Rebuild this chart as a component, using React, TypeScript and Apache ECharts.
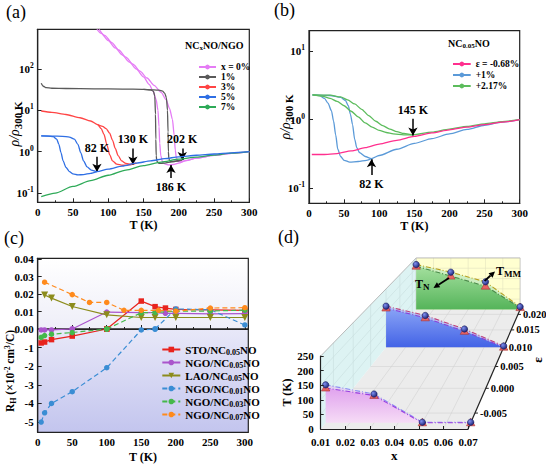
import React, { useEffect, useRef } from 'react';
import * as echarts from 'echarts';

const SERIF = "'Liberation Serif', 'Times New Roman', serif";

// ---------------- Panel (a): rho/rho300K vs T, NCxNO/NGO ----------------
const A_NAMES = ['x = 0%', '1%', '3%', '5%', '7%'];
const A_COLORS = ['#e57cf5', '#5a5a5a', '#ff4545', '#2f6fe4', '#2eaa58'];
const A_X0_COOL = [[84, 900], [90, 720], [100, 480], [110, 320], [120, 215], [130, 145], [140, 98], [150, 64], [158, 42], [164, 28], [168, 18], [170.5, 10], [172, 4], [173, 1.6], [174.5, 0.8], [177, 0.56], [181, 0.5], [186, 0.48], [192, 0.49], [200, 0.53], [210, 0.61], [225, 0.7], [250, 0.81], [275, 0.91], [300, 1]];
const A_X0_WARM = [[87, 900], [95, 640], [105, 430], [115, 285], [125, 192], [135, 130], [145, 88], [155, 60], [165, 40], [175, 27], [182, 18], [187, 11], [191, 6], [193.5, 2.5], [195, 1.1], [196.5, 0.72], [199, 0.58], [203, 0.57], [210, 0.61], [225, 0.7], [250, 0.81], [275, 0.91], [300, 1]];
const A_X1_A = [[5, 45], [8, 38], [12, 35], [20, 34], [40, 33.5], [80, 33], [120, 32.5], [150, 32], [160, 31], [164, 29], [166, 22], [167, 8], [167.5, 2], [168, 0.8], [169, 0.58], [172, 0.52], [180, 0.53], [190, 0.57], [200, 0.62]];
const A_X1_B = [[150, 32], [165, 31], [172, 30.5], [177, 29], [180, 26], [182.5, 20], [184, 10], [184.8, 3], [185.3, 1], [186, 0.66], [188, 0.58], [195, 0.59], [205, 0.63]];
const A_X3_A = [[5, 9.6], [20, 8.9], [40, 7.9], [60, 6.6], [75, 5.5], [85, 4.5], [90, 3.6], [94, 2.6], [98, 1.5], [102, 0.85], [106, 0.6], [112, 0.5], [120, 0.47], [130, 0.48], [140, 0.53]];
const A_X3_B = [[85, 4.5], [92, 4.1], [97, 3.6], [102, 2.8], [106, 1.9], [110, 1.2], [114, 0.8], [119, 0.6], [125, 0.52], [132, 0.5], [140, 0.53]];
const A_X5_A = [[5, 2.4], [15, 2.38], [22, 2.3], [27, 2.0], [30, 1.5], [33, 0.95], [36, 0.6], [40, 0.42], [45, 0.33], [50, 0.29], [57, 0.275], [65, 0.28], [75, 0.3], [84, 0.33]];
const A_X5_B = [[5, 2.4], [20, 2.38], [35, 2.35], [45, 2.25], [52, 2.0], [57, 1.5], [61, 0.95], [65, 0.6], [70, 0.43], [76, 0.36], [84, 0.33], [100, 0.38], [120, 0.45], [140, 0.53], [160, 0.6], [180, 0.68], [200, 0.75], [225, 0.82], [250, 0.88], [275, 0.94], [300, 1]];
const A_X7 = [[5, 0.082], [25, 0.1], [50, 0.145], [75, 0.2], [100, 0.27], [125, 0.36], [150, 0.46], [175, 0.56], [200, 0.66], [225, 0.74], [250, 0.83], [275, 0.92], [300, 1]];
const A_ARROWS = [
  { label: '82 K', from: [84, 0.75], to: [84, 0.33] },
  { label: '130 K', from: [135, 1.2], to: [135, 0.49] },
  { label: '202 K', from: [205, 1.2], to: [205, 0.63] },
  { label: '186 K', from: [189, 0.23], to: [189, 0.48] },
];

// ---------------- Panel (b): NC0.05NO, strain ----------------
const B_NAMES = ['ε = -0.68%', '+1%', '+2.17%'];
const B_COLORS = ['#ff2f8e', '#5b9ad8', '#5cbc5c'];
const B_PINK = [[4, 0.31], [20, 0.31], [40, 0.32], [60, 0.35], [80, 0.39], [100, 0.44], [125, 0.5], [150, 0.57], [175, 0.64], [200, 0.71], [225, 0.78], [250, 0.85], [275, 0.92], [300, 1]];
const B_BLUE_A = [[5, 2.3], [15, 2.25], [22, 2.05], [27, 1.75], [32, 1.35], [35, 0.95], [38, 0.6], [41, 0.37], [45, 0.29], [50, 0.255], [58, 0.24], [70, 0.245], [82, 0.255], [89, 0.27]];
const B_BLUE_B = [[5, 2.3], [30, 2.26], [45, 2.12], [52, 1.9], [56, 1.6], [59, 1.2], [62, 0.85], [65, 0.52], [68, 0.39], [72, 0.33], [80, 0.29], [89, 0.27], [100, 0.3], [125, 0.37], [150, 0.45], [175, 0.53], [200, 0.62], [225, 0.72], [250, 0.83], [275, 0.92], [300, 1]];
const B_GREEN_A = [[5, 2.3], [20, 2.2], [30, 2.05], [40, 1.85], [50, 1.6], [60, 1.33], [70, 1.1], [80, 0.9], [90, 0.78], [100, 0.7], [110, 0.65], [120, 0.62], [135, 0.6], [148, 0.6]];
const B_GREEN_B = [[5, 2.3], [30, 2.28], [45, 2.15], [55, 1.95], [65, 1.7], [75, 1.42], [85, 1.15], [95, 0.95], [105, 0.82], [115, 0.73], [125, 0.67], [135, 0.63], [148, 0.6], [175, 0.66], [200, 0.73], [225, 0.8], [250, 0.87], [275, 0.94], [300, 1]];
const B_ARROWS = [
  { label: '145 K', from: [148, 1.03], to: [148, 0.59] },
  { label: '82 K', from: [89, 0.155], to: [89, 0.265] },
];

// ---------------- Panel (c): Hall coefficient (x10^-2 cm^3/C) ----------------
const C_NAMES = ['STO/NC0.05NO', 'NGO/NC0.05NO', 'LAO/NC0.05NO', 'NGO/NC0.01NO', 'NGO/NC0.03NO', 'NGO/NC0.07NO'];
const C_T_STO = [5, 10, 20, 50, 100, 150, 170, 185, 200, 250, 300];
const C_V_STO = [-0.75, -0.7, -0.57, -0.38, 0, 0.016, 0.0128, 0.012, 0.0112, 0.011, 0.0107];
const C_T_NGO05 = [5, 10, 20, 50, 100, 150, 170, 185, 200, 250, 300];
const C_V_NGO05 = [-0.05, -0.05, -0.05, 0, 0.0097, 0.0094, 0.0094, 0.009, 0.009, 0.0087, 0.0088];
const C_T_LAO = [10, 20, 50, 100, 150, 170, 200, 250, 300];
const C_V_LAO = [0.0195, 0.0177, 0.0129, 0.0081, 0.0066, 0.0066, 0.0066, 0.0066, 0.0066];
const C_T_NGO01 = [5, 10, 20, 50, 100, 150, 170, 200, 250, 300];
const C_V_NGO01 = [-5.0, -4.5, -4.0, -3.37, -2.08, -0.05, 0, 0.0115, 0.011, 0.0023];
const C_T_NGO03 = [5, 10, 20, 50, 100, 150, 170, 200, 250, 300];
const C_V_NGO03 = [-0.45, -0.35, -0.28, -0.19, 0, 0.0093, 0.0095, 0.0102, 0.0103, 0.0108];
const C_T_NGO07 = [10, 50, 75, 100, 125, 150, 175, 200, 250, 300];
const C_V_NGO07 = [0.0268, 0.0197, 0.0152, 0.0152, 0.0107, 0.0107, 0.0107, 0.0102, 0.012, 0.0122];

// ---------------- Panel (d): 3D phase diagram ----------------
const D_X = [0.01, 0.03, 0.05, 0.07];
const D_EPS = [-0.0068, 0.01, 0.0217];
const D_TMM = [[132, 100, 2, 2], [176, 136, 78, 5], [218, 181, 134, 13]];
const D_TN = [[121, 95, 0, 0], [168, 126, 68, 0], [210, 162, 113, 9]];
const D_X_TICKS = [0.02, 0.03, 0.04, 0.05, 0.06];
const D_T_TICKS = [50, 100, 150, 200];
const D_EPS_TICKS = [-0.005, 0, 0.005, 0.01, 0.015, 0.02];

// projection (camera) parameters
const D_VP = [645, 23];
const D_PERSP = 14.1;
const D_EPS_MIN = -0.0079;
const D_EPS_MAX = 0.0217;
const D_X_MIN = 0.01;
const D_X_MAX = 0.07;
const D_T_MAX = 250;

function proj(api: any, x: number, t: number, eps: number) {
  const p = api.coord([x, t]);
  const s = 1 / (1 + D_PERSP * (eps - D_EPS_MIN));
  return [D_VP[0] + (p[0] - D_VP[0]) * s, D_VP[1] + (p[1] - D_VP[1]) * s];
}

const boldText = { fontFamily: SERIF, fontWeight: 'bold', color: '#000' };

function logFormatter(v: number) {
  const e = Math.log10(v);
  if (Math.abs(e - Math.round(e)) > 1e-6) return '';
  return `{b|10}{s|${Math.round(e)}}`;
}
const logRich = {
  b: { ...boldText, fontSize: 11 },
  s: { ...boldText, fontSize: 7.5, padding: [0, 0, 7, 0] },
};

const axisLineStyle = { show: true, lineStyle: { color: '#222', width: 1.2 } };
const tickIn = { show: true, inside: true, length: 4, lineStyle: { color: '#222', width: 1 } };

function xAxisT(grid: number, max: number, showLabel: boolean, name: string) {
  return {
    type: 'value', gridIndex: grid, min: 0, max, interval: 50,
    axisLine: axisLineStyle, axisTick: tickIn,
    minorTick: { show: true, splitNumber: 2, length: 2, lineStyle: { color: '#222' } },
    axisLabel: { show: showLabel, ...boldText, fontSize: 11, margin: 4, formatter: (v: number) => (v > 300 ? '' : String(v)) },
    splitLine: { show: false },
    name, nameLocation: 'middle', nameGap: 17,
    nameTextStyle: { ...boldText, fontSize: 12 },
  };
}

function lineS(name: string, data: number[][], color: string, idx: number, z: number) {
  return {
    type: 'line', name, data, xAxisIndex: idx, yAxisIndex: idx,
    symbol: 'none', showSymbol: false, smooth: 0.25, smoothMonotone: 'x',
    lineStyle: { color, width: 1.3 }, itemStyle: { color }, z,
    clip: true,
  };
}

function arrowMarkLine(arrows: any[]) {
  return {
    silent: true, animation: false,
    symbol: ['none', 'arrow'], symbolSize: [7, 8],
    lineStyle: { color: '#000', width: 1.5, type: 'solid' },
    label: { show: true, position: 'start', formatter: '{b}', ...boldText, fontSize: 12, distance: 3 },
    data: arrows.map((a) => [{ name: a.label, coord: a.from }, { coord: a.to }]),
  };
}

function subName(name: string) {
  const m = name.match(/^(.*NC)([\d.]+)(NO)$/);
  return m ? `{n|${m[1]}}{s|${m[2]}}{n|${m[3]}}` : `{n|${name}}`;
}

function cSplit(T: number[], V: number[], upper: boolean) {
  return T.map((t, i) => [t, (upper ? V[i] >= 0 : V[i] <= 0) ? V[i] : '-']);
}

function arrowEls(x1: number, y1: number, x2: number, y2: number) {
  const ang = Math.atan2(y2 - y1, x2 - x1);
  const L = 6, W = 3;
  const bx = x2 - L * Math.cos(ang), by = y2 - L * Math.sin(ang);
  const nx = -Math.sin(ang), ny = Math.cos(ang);
  return [
    { type: 'line', z: 100, shape: { x1, y1, x2: bx, y2: by }, style: { stroke: '#000', lineWidth: 1.8 } },
    { type: 'polygon', z: 100, shape: { points: [[x2, y2], [bx + nx * W, by + ny * W], [bx - nx * W, by - ny * W]] }, style: { fill: '#000' } },
  ];
}

function buildOption() {
  // ----- (c) series -----
  const cStyles = [
    { T: C_T_STO, V: C_V_STO, color: '#e8231d', symbol: 'rect', dashed: false, rot: 0 },
    { T: C_T_NGO05, V: C_V_NGO05, color: '#aa55cc', symbol: 'circle', dashed: false, rot: 0 },
    { T: C_T_LAO, V: C_V_LAO, color: '#8c8c1c', symbol: 'triangle', dashed: false, rot: 180 },
    { T: C_T_NGO01, V: C_V_NGO01, color: '#3a8dd4', symbol: 'circle', dashed: true, rot: 0 },
    { T: C_T_NGO03, V: C_V_NGO03, color: '#45b84a', symbol: 'circle', dashed: true, rot: 0 },
    { T: C_T_NGO07, V: C_V_NGO07, color: '#ff8a1c', symbol: 'circle', dashed: true, rot: 0 },
  ];
  const cSeries: any[] = [];
  cStyles.forEach((s, k) => {
    [true, false].forEach((upper) => {
      cSeries.push({
        type: 'line', name: C_NAMES[k], data: cSplit(s.T, s.V, upper),
        xAxisIndex: upper ? 2 : 3, yAxisIndex: upper ? 2 : 3,
        symbol: s.symbol, symbolRotate: s.rot, symbolSize: s.symbol === 'triangle' ? 7 : 5.5, showSymbol: true,
        lineStyle: { color: s.color, width: 1.2, type: s.dashed ? [5, 3] : 'solid' },
        itemStyle: { color: s.color }, clip: false, z: 3 + k,
      });
    });
  });

  // ----- (d) custom series -----
  const boxRender = (params: any, api: any) => {
    const P = (x: number, t: number, e: number) => proj(api, x, t, e);
    const x0 = D_X_MIN, x1 = D_X_MAX, e0 = D_EPS_MIN, e1 = D_EPS_MAX, tm = D_T_MAX;
    const ch: any[] = [];
    const poly = (pts: number[][], fill: string) => ({ type: 'polygon', shape: { points: pts }, style: { fill } });
    const ln = (a: number[], b: number[], stroke: string, w: number) => ({ type: 'line', shape: { x1: a[0], y1: a[1], x2: b[0], y2: b[1] }, style: { stroke, lineWidth: w } });
    ch.push(poly([P(x0, 0, e0), P(x1, 0, e0), P(x1, 0, e1), P(x0, 0, e1)], '#ececec'));
    ch.push(poly([P(x0, 0, e0), P(x0, tm, e0), P(x0, tm, e1), P(x0, 0, e1)], '#ddf3f3'));
    ch.push(poly([P(x0, 0, e1), P(x1, 0, e1), P(x1, tm, e1), P(x0, tm, e1)], '#ffffd0'));
    const gc = '#d2d2d2';
    D_X_TICKS.forEach((x) => {
      ch.push(ln(P(x, 0, e0), P(x, 0, e1), gc, 0.6));
      ch.push(ln(P(x, 0, e1), P(x, tm, e1), '#e2e2c0', 0.6));
    });
    D_EPS_TICKS.forEach((e) => {
      ch.push(ln(P(x0, 0, e), P(x1, 0, e), gc, 0.6));
      ch.push(ln(P(x0, 0, e), P(x0, tm, e), '#c8dede', 0.6));
    });
    D_T_TICKS.forEach((t) => {
      ch.push(ln(P(x0, t, e0), P(x0, t, e1), '#c8dede', 0.6));
      ch.push(ln(P(x0, t, e1), P(x1, t, e1), '#e2e2c0', 0.6));
    });
    ch.push(ln(P(x0, tm, e0), P(x0, tm, e1), '#aaaaaa', 0.8));
    ch.push(ln(P(x0, tm, e1), P(x1, tm, e1), '#aaaaaa', 0.8));
    ch.push(ln(P(x1, 0, e1), P(x1, tm, e1), '#bbbbbb', 0.8));
    ch.push(ln(P(x0, 0, e1), P(x0, tm, e1), '#bbbbbb', 0.8));
    ch.push(ln(P(x1, 0, e0), P(x1, 0, e1), '#222', 1.2));
    D_EPS_TICKS.forEach((e) => {
      const p = P(x1, 0, e);
      ch.push(ln(p, [p[0] + 3, p[1]], '#222', 1));
      ch.push({
        type: 'text', x: p[0] + 5, y: p[1],
        style: { text: e.toFixed(3), fill: '#000', fontFamily: SERIF, fontWeight: 'bold', fontSize: 10.5, align: 'left', verticalAlign: 'middle' },
      });
    });
    return { type: 'group', children: ch };
  };

  const planeFill = [
    { top: '#e0a2ee', bot: '#f6dcf6', band: 'rgba(230,190,240,0.6)', lmm: '#8a8cf2', ln: '#9a3fe0' },
    { top: '#8aa4f6', bot: '#4363e6', band: 'rgba(150,170,245,0.6)', lmm: '#c0407a', ln: '#8a40d8' },
    { top: '#a4e09e', bot: '#55b45a', band: 'rgba(200,236,190,0.9)', lmm: '#b8a020', ln: '#4a8a4a' },
  ];
  const planeRender = (pi: number) => (params: any, api: any) => {
    const eps = D_EPS[pi];
    const st = planeFill[pi];
    const ch: any[] = [];
    if (params.dataIndex === 0) {
      const tnPts = D_X.map((x, j) => proj(api, x, D_TN[pi][j], eps));
      const mmPts = D_X.map((x, j) => proj(api, x, D_TMM[pi][j], eps));
      const base = [proj(api, D_X[D_X.length - 1], 0, eps), proj(api, D_X[0], 0, eps)];
      ch.push({ type: 'polygon', shape: { points: [...mmPts, ...tnPts.slice().reverse()] }, style: { fill: st.band } });
      ch.push({
        type: 'polygon', shape: { points: [...tnPts, ...base] },
        style: { fill: new echarts.graphic.LinearGradient(0, 0, 0, 1, [{ offset: 0, color: st.top }, { offset: 1, color: st.bot }]) },
      });
      ch.push({ type: 'polyline', shape: { points: mmPts }, style: { stroke: st.lmm, lineWidth: 1.1, lineDash: [5, 2, 1, 2], fill: null } });
      ch.push({ type: 'polyline', shape: { points: tnPts }, style: { stroke: st.ln, lineWidth: 1.1, lineDash: [5, 2, 1, 2], fill: null } });
    }
    const pT = proj(api, api.value(0), api.value(2), eps);
    const pC = proj(api, api.value(0), api.value(1), eps);
    ch.push({
      type: 'polygon', shape: { points: [[pT[0], pT[1] - 4.5], [pT[0] - 4.2, pT[1] + 3], [pT[0] + 4.2, pT[1] + 3]] },
      style: { fill: '#e86464', stroke: '#a83030', lineWidth: 0.6 },
    });
    ch.push({
      type: 'circle', shape: { cx: pC[0], cy: pC[1], r: 3.2 },
      style: { fill: new echarts.graphic.RadialGradient(0.35, 0.35, 0.8, [{ offset: 0, color: '#8090f0' }, { offset: 1, color: '#0c1466' }]), stroke: '#0a0f50', lineWidth: 0.5 },
    });
    return { type: 'group', children: ch };
  };

  const dSeries: any[] = [
    { type: 'custom', name: 'box', xAxisIndex: 4, yAxisIndex: 4, data: [[D_X_MIN, 0]], renderItem: boxRender, clip: false, silent: true, z: 1, encode: { x: 0, y: 1 } },
  ];
  [2, 1, 0].forEach((pi) => {
    dSeries.push({
      type: 'custom', name: 'plane' + pi, xAxisIndex: 4, yAxisIndex: 4,
      data: D_X.map((x, j) => [x, D_TMM[pi][j], D_TN[pi][j]]),
      renderItem: planeRender(pi), clip: false, silent: true, z: 2 + (2 - pi), encode: { x: 0, y: 1 },
    });
  });

  const richSub = (fs: number) => ({
    n: { ...boldText, fontSize: fs, lineHeight: fs + 1 },
    s: { ...boldText, fontSize: fs - 3, padding: [5, 0, 0, 0], lineHeight: fs + 1 },
  });

  const graphic: any[] = [
    { type: 'text', x: 6, y: 3, style: { text: '(a)', fontFamily: SERIF, fontSize: 18, fill: '#000' } },
    { type: 'text', x: 274, y: 1, style: { text: '(b)', fontFamily: SERIF, fontSize: 18, fill: '#000' } },
    { type: 'text', x: 4, y: 229, style: { text: '(c)', fontFamily: SERIF, fontSize: 18, fill: '#000' } },
    { type: 'text', x: 278, y: 228, style: { text: '(d)', fontFamily: SERIF, fontSize: 18, fill: '#000' } },
    {
      type: 'text', x: 14, y: 124, rotation: Math.PI / 2,
      style: { text: '{i|ρ/ρ}{s|300 K}', align: 'center', verticalAlign: 'middle', rich: { i: { fontFamily: SERIF, fontStyle: 'italic', fontSize: 14, fill: '#000' }, s: { ...boldText, fontSize: 11, padding: [7, 0, 0, 0] } } },
    },
    {
      type: 'text', x: 285, y: 117, rotation: Math.PI / 2,
      style: { text: '{i|ρ/ρ}{s|300 K}', align: 'center', verticalAlign: 'middle', rich: { i: { fontFamily: SERIF, fontStyle: 'italic', fontSize: 14, fill: '#000' }, s: { ...boldText, fontSize: 11, padding: [7, 0, 0, 0] } } },
    },
    {
      type: 'text', x: 10, y: 371, rotation: Math.PI / 2,
      style: {
        text: '{n|R}{d|H}{n| (×10}{u|-2}{n| cm}{u|3}{n|/C)}', align: 'center', verticalAlign: 'middle',
        rich: { n: { ...boldText, fontSize: 11.5 }, d: { ...boldText, fontSize: 8, padding: [6, 0, 0, 0] }, u: { ...boldText, fontSize: 7.5, padding: [0, 0, 6, 0] } },
      },
    },
    { type: 'text', x: 185, y: 45, style: { text: '{n|NC}{s|x}{n|NO/NGO}', verticalAlign: 'middle', rich: richSub(10) } },
    { type: 'text', x: 448, y: 43, style: { text: '{n|NC}{s|0.05}{n|NO}', verticalAlign: 'middle', rich: richSub(10) } },
    { type: 'text', x: 537, y: 360, rotation: Math.PI / 2, style: { text: 'ε', align: 'center', verticalAlign: 'middle', fontFamily: SERIF, fontWeight: 'bold', fontSize: 13, fill: '#000' } },
    { type: 'text', x: 496, y: 271, z: 100, style: { text: '{n|T}{s|MM}', verticalAlign: 'middle', rich: richSub(12) } },
    { type: 'text', x: 415, y: 284, z: 100, style: { text: '{n|T}{s|N}', verticalAlign: 'middle', rich: richSub(12) } },
    ...arrowEls(484.5, 281, 495, 271.5),
    ...arrowEls(449, 278, 433.5, 288),
  ];

  return {
    animation: false,
    backgroundColor: '#ffffff',
    textStyle: { fontFamily: SERIF },
    graphic,
    grid: [
      { left: 37.7, top: 29.3, width: 211.6, height: 173, show: true, borderColor: '#222', borderWidth: 1.2, backgroundColor: '#fff' },
      { left: 309, top: 30.7, width: 210.7, height: 172.6, show: true, borderColor: '#222', borderWidth: 1.2, backgroundColor: '#fff' },
      {
        left: 37.7, top: 258.3, width: 210.6, height: 70.7, show: true, borderColor: '#222', borderWidth: 1.2,
        backgroundColor: new echarts.graphic.LinearGradient(0, 0, 0, 1, [{ offset: 0, color: '#ffffff' }, { offset: 1, color: '#eeeef8' }]),
      },
      {
        left: 37.7, top: 329, width: 210.6, height: 103.3, show: true, borderColor: '#222', borderWidth: 1.2,
        backgroundColor: new echarts.graphic.LinearGradient(0, 0, 0, 1, [{ offset: 0, color: '#e8e8f8' }, { offset: 1, color: '#c3c5ee' }]),
      },
      { left: 320.7, top: 356, width: 147.3, height: 73, show: false },
    ],
    xAxis: [
      xAxisT(0, 300, true, 'T (K)'),
      xAxisT(1, 300, true, 'T (K)'),
      { ...xAxisT(2, 305, false, ''), axisTick: { show: false }, minorTick: { show: false } },
      { ...xAxisT(3, 305, true, 'T (K)'), nameGap: 19 },
      {
        type: 'value', gridIndex: 4, min: 0.01, max: 0.07, interval: 0.01, z: 10,
        axisLine: axisLineStyle, axisTick: { show: true, inside: true, length: 3, lineStyle: { color: '#222' } },
        axisLabel: { ...boldText, fontSize: 11, margin: 7, formatter: (v: number) => v.toFixed(2) },
        splitLine: { show: false },
        name: 'x', nameLocation: 'middle', nameGap: 20, nameTextStyle: { ...boldText, fontSize: 13 },
      },
    ],
    yAxis: [
      {
        type: 'log', logBase: 10, gridIndex: 0, min: 0.06, max: 900,
        axisLine: axisLineStyle, axisTick: tickIn,
        axisLabel: { formatter: logFormatter, rich: logRich, margin: 4 },
        splitLine: { show: false }, minorTick: { show: false },
      },
      {
        type: 'log', logBase: 10, gridIndex: 1, min: 0.06, max: 20,
        axisLine: axisLineStyle, axisTick: tickIn,
        axisLabel: { formatter: logFormatter, rich: logRich, margin: 4 },
        splitLine: { show: false }, minorTick: { show: false },
      },
      {
        type: 'value', gridIndex: 2, min: 0, max: 0.0405, splitNumber: 4,
        axisLine: axisLineStyle, axisTick: tickIn,
        axisLabel: { ...boldText, fontSize: 11, margin: 4, formatter: (v: number) => (Math.abs(v * 100 - Math.round(v * 100)) > 1e-6 ? '' : v.toFixed(2)) },
        splitLine: { show: false },
      },
      {
        type: 'value', gridIndex: 3, min: -5.55, max: 0, splitNumber: 5,
        axisLine: axisLineStyle, axisTick: tickIn,
        axisLabel: { ...boldText, fontSize: 11, margin: 4, formatter: (v: number) => (Math.abs(v - Math.round(v)) > 1e-6 || Math.round(v) === 0 ? '' : String(Math.round(v))) },
        splitLine: { show: false },
      },
      {
        type: 'value', gridIndex: 4, min: 0, max: 250, interval: 50, z: 10,
        axisLine: axisLineStyle, axisTick: { show: true, inside: true, length: 3, lineStyle: { color: '#222' } },
        axisLabel: { ...boldText, fontSize: 11, margin: 7 },
        splitLine: { show: false },
        name: 'T (K)', nameLocation: 'middle', nameGap: 27, nameTextStyle: { ...boldText, fontSize: 12 },
      },
    ],
    legend: [
      {
        data: A_NAMES, left: 193, top: 57, orient: 'vertical', itemWidth: 17, itemHeight: 6, itemGap: 0,
        textStyle: { ...boldText, fontSize: 9.5, lineHeight: 8.7 }, selectedMode: false,
      },
      {
        data: B_NAMES, left: 447, top: 53.5, orient: 'vertical', itemWidth: 17.7, itemHeight: 6, itemGap: 0,
        textStyle: { ...boldText, fontSize: 9.5, lineHeight: 11 }, selectedMode: false,
      },
      {
        data: C_NAMES, left: 156.3, top: 338, orient: 'vertical', itemWidth: 18, itemHeight: 7, itemGap: 0,
        formatter: subName,
        textStyle: { ...boldText, fontSize: 11, lineHeight: 14.4, rich: richSub(11) }, selectedMode: false,
      },
    ],
    series: [
      lineS(A_NAMES[0], A_X0_COOL, A_COLORS[0], 0, 2),
      lineS(A_NAMES[0], A_X0_WARM, A_COLORS[0], 0, 2),
      lineS(A_NAMES[1], A_X1_A, A_COLORS[1], 0, 3),
      lineS(A_NAMES[1], A_X1_B, A_COLORS[1], 0, 3),
      lineS(A_NAMES[2], A_X3_A, A_COLORS[2], 0, 4),
      lineS(A_NAMES[2], A_X3_B, A_COLORS[2], 0, 4),
      { ...lineS(A_NAMES[4], A_X7, A_COLORS[4], 0, 5), markLine: arrowMarkLine(A_ARROWS) },
      lineS(A_NAMES[3], A_X5_A, A_COLORS[3], 0, 6),
      lineS(A_NAMES[3], A_X5_B, A_COLORS[3], 0, 6),
      lineS(B_NAMES[1], B_BLUE_A, B_COLORS[1], 1, 2),
      lineS(B_NAMES[1], B_BLUE_B, B_COLORS[1], 1, 2),
      lineS(B_NAMES[2], B_GREEN_A, B_COLORS[2], 1, 3),
      lineS(B_NAMES[2], B_GREEN_B, B_COLORS[2], 1, 3),
      { ...lineS(B_NAMES[0], B_PINK, B_COLORS[0], 1, 4), markLine: arrowMarkLine(B_ARROWS) },
      ...cSeries,
      ...dSeries,
    ],
  };
}

export default function App() {
  const ref = useRef<HTMLDivElement>(null);
  useEffect(() => {
    if (!ref.current) return;
    const chart = echarts.init(ref.current, null, { renderer: 'svg' });
    chart.setOption(buildOption() as any);
    return () => chart.dispose();
  }, []);
  return <div ref={ref} style={{ position: 'fixed', left: 0, top: 0, width: 546, height: 465, background: '#fff' }} />;
}
